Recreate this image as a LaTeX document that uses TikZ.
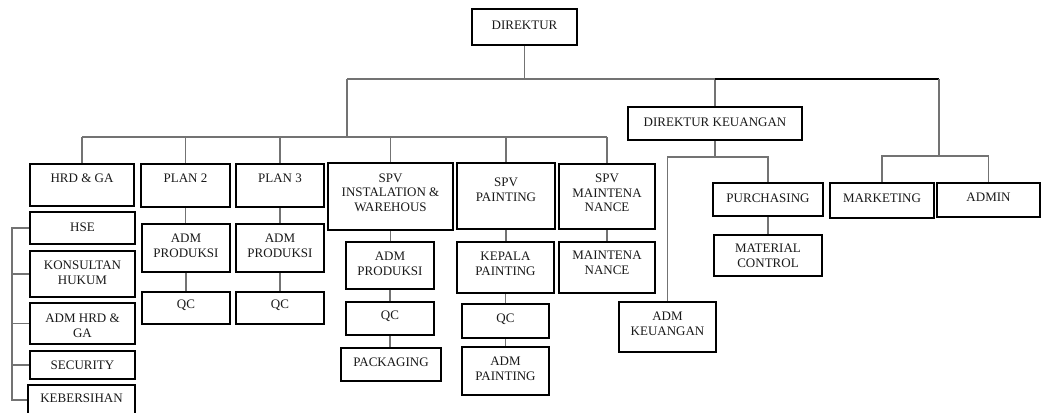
\documentclass[tikz,border=0pt]{standalone}
\usepackage{fontspec}
\setmainfont{Liberation Serif}
\definecolor{conncol}{RGB}{115,115,115}
\definecolor{txtcol}{RGB}{25,25,25}
\tikzset{
  box/.style={draw=black, line width=2pt, fill=white, inner sep=0pt, rectangle},
  txt/.style={align=center, inner sep=0pt, font=\fontsize{13}{14.6}\selectfont, text=txtcol},
  conn/.style={draw=conncol, line width=1.3pt},
  connk/.style={draw=black, line width=1.1pt},
}
\newcommand\orgbox[7]{%
  \pgfmathsetmacro\obw{#4-#2}%
  \pgfmathsetmacro\obh{#5-#3}%
  \node[box, minimum width=\obw pt, minimum height=\obh pt] (#1) at ({(#2+#4)/2},{(#3+#5)/2}) {};
  \node[txt] (#1-t) at ({(#2+#4)/2},#6) {#7};
}
\begin{document}
\begin{tikzpicture}[x=1pt,y=-1pt]
\useasboundingbox (0,0) rectangle (1043,412);
\clip (0,0) rectangle (1043,412);
% boxes
\orgbox{dir}{472}{9}{577}{45}{25}{DIREKTUR}
\orgbox{dk}{628}{107}{802}{140}{122}{DIREKTUR KEUANGAN}
\orgbox{hrd}{30}{164}{134}{206}{178}{HRD \& GA}
\orgbox{plan2}{141}{164}{230}{207}{178}{PLAN 2}
\orgbox{plan3}{236}{164}{324}{207}{178}{PLAN 3}
\orgbox{spvi}{328}{163}{453}{230}{192.5}{SPV\\INSTALATION \&\\WAREHOUS}
\orgbox{spvp}{457}{163}{555}{229}{189.5}{SPV\\PAINTING}
\orgbox{spvm}{559}{164}{655}{229}{193}{SPV\\MAINTENA\\NANCE}
\orgbox{pur}{713}{183}{823}{216}{198}{PURCHASING}
\orgbox{mat}{714}{235}{822}{276}{256}{MATERIAL\\CONTROL}
\orgbox{admk}{619}{302}{716}{352}{324}{ADM\\KEUANGAN}
\orgbox{mkt}{830}{183}{934}{218}{198}{MARKETING}
\orgbox{adm}{937}{183}{1040}{217}{197}{ADMIN}
\orgbox{hse}{30}{212}{135}{244}{227}{HSE}
\orgbox{kons}{30}{251}{135}{297}{273}{KONSULTAN\\HUKUM}
\orgbox{admhrd}{30}{303}{135}{344}{325.5}{ADM HRD \&\\GA}
\orgbox{sec}{30}{351}{135}{379}{365}{SECURITY}
\orgbox{keb}{28}{385}{135}{415}{398}{KEBERSIHAN}
\orgbox{admp2}{142}{224}{230}{272}{246}{ADM\\PRODUKSI}
\orgbox{qc2}{142}{292}{230}{324}{305}{QC}
\orgbox{admp3}{236}{224}{324}{272}{246}{ADM\\PRODUKSI}
\orgbox{qc3}{236}{292}{324}{324}{305}{QC}
\orgbox{admpi}{346}{242}{434}{289}{263.5}{ADM\\PRODUKSI}
\orgbox{qci}{346}{302}{434}{335}{316}{QC}
\orgbox{pack}{341}{348}{441}{381}{362}{PACKAGING}
\orgbox{kep}{457}{242}{554}{293}{263.5}{KEPALA\\PAINTING}
\orgbox{qcp}{462}{304}{549}{338}{319}{QC}
\orgbox{admpt}{462}{347}{549}{395}{368.5}{ADM\\PAINTING}
\orgbox{maint}{559}{242}{655}{293}{262.5}{MAINTENA\\NANCE}
% bus coordinates
\coordinate (topL) at (347,79);
\coordinate (topR) at (939,79);
\coordinate (l2) at (0,137);
\coordinate (kbus) at (0,157);
\coordinate (mbus) at (0,156);
\coordinate (brX) at (12,0);
% top level
\draw[conn] (dir.south) -- (dir.south |- topL);
\draw[conn] (topL) -- (dk.north |- topL) -- (dk.north);
\draw[connk] (dk.north |- topL) -- (topR);
\draw[conn] (topR) -- (topR |- mbus);
% level 2 bus
\draw[conn] (topL) -- (topL |- l2);
\draw[conn] (hrd.north |- l2) -- (spvm.north |- l2);
\foreach \n in {hrd,plan2,plan3,spvi,spvp,spvm}
  \draw[conn] (\n.north |- l2) -- (\n.north);
% chains
\draw[conn] (plan2.south) -- (plan2.south |- admp2.north);
\draw[conn] (admp2.south) -- (admp2.south |- qc2.north);
\draw[conn] (plan3.south) -- (plan3.south |- admp3.north);
\draw[conn] (admp3.south) -- (admp3.south |- qc3.north);
\draw[conn] (spvi.south) -- (spvi.south |- admpi.north);
\draw[conn] (admpi.south) -- (admpi.south |- qci.north);
\draw[conn] (qci.south) -- (qci.south |- pack.north);
\draw[conn] (spvp.south) -- (spvp.south |- kep.north);
\draw[conn] (kep.south) -- (kep.south |- qcp.north);
\draw[conn] (qcp.south) -- (qcp.south |- admpt.north);
\draw[conn] (spvm.south) -- (spvm.south |- maint.north);
% keuangan
\draw[conn] (dk.south) -- (dk.south |- kbus);
\draw[conn] (admk.north) -- (admk.north |- kbus) -- (pur.north |- kbus) -- (pur.north);
\draw[conn] (pur.south) -- (pur.south |- mat.north);
% marketing/admin
\draw[conn] (mkt.north) -- (mkt.north |- mbus) -- (adm.north |- mbus) -- (adm.north);
% left bracket
\draw[conn] (hse.west) -- (hse.west -| brX) -- (keb.west -| brX) -- (keb.west);
\foreach \n in {kons,admhrd,sec}
  \draw[conn] (\n.west) -- (\n.west -| brX);
\end{tikzpicture}
\end{document}
